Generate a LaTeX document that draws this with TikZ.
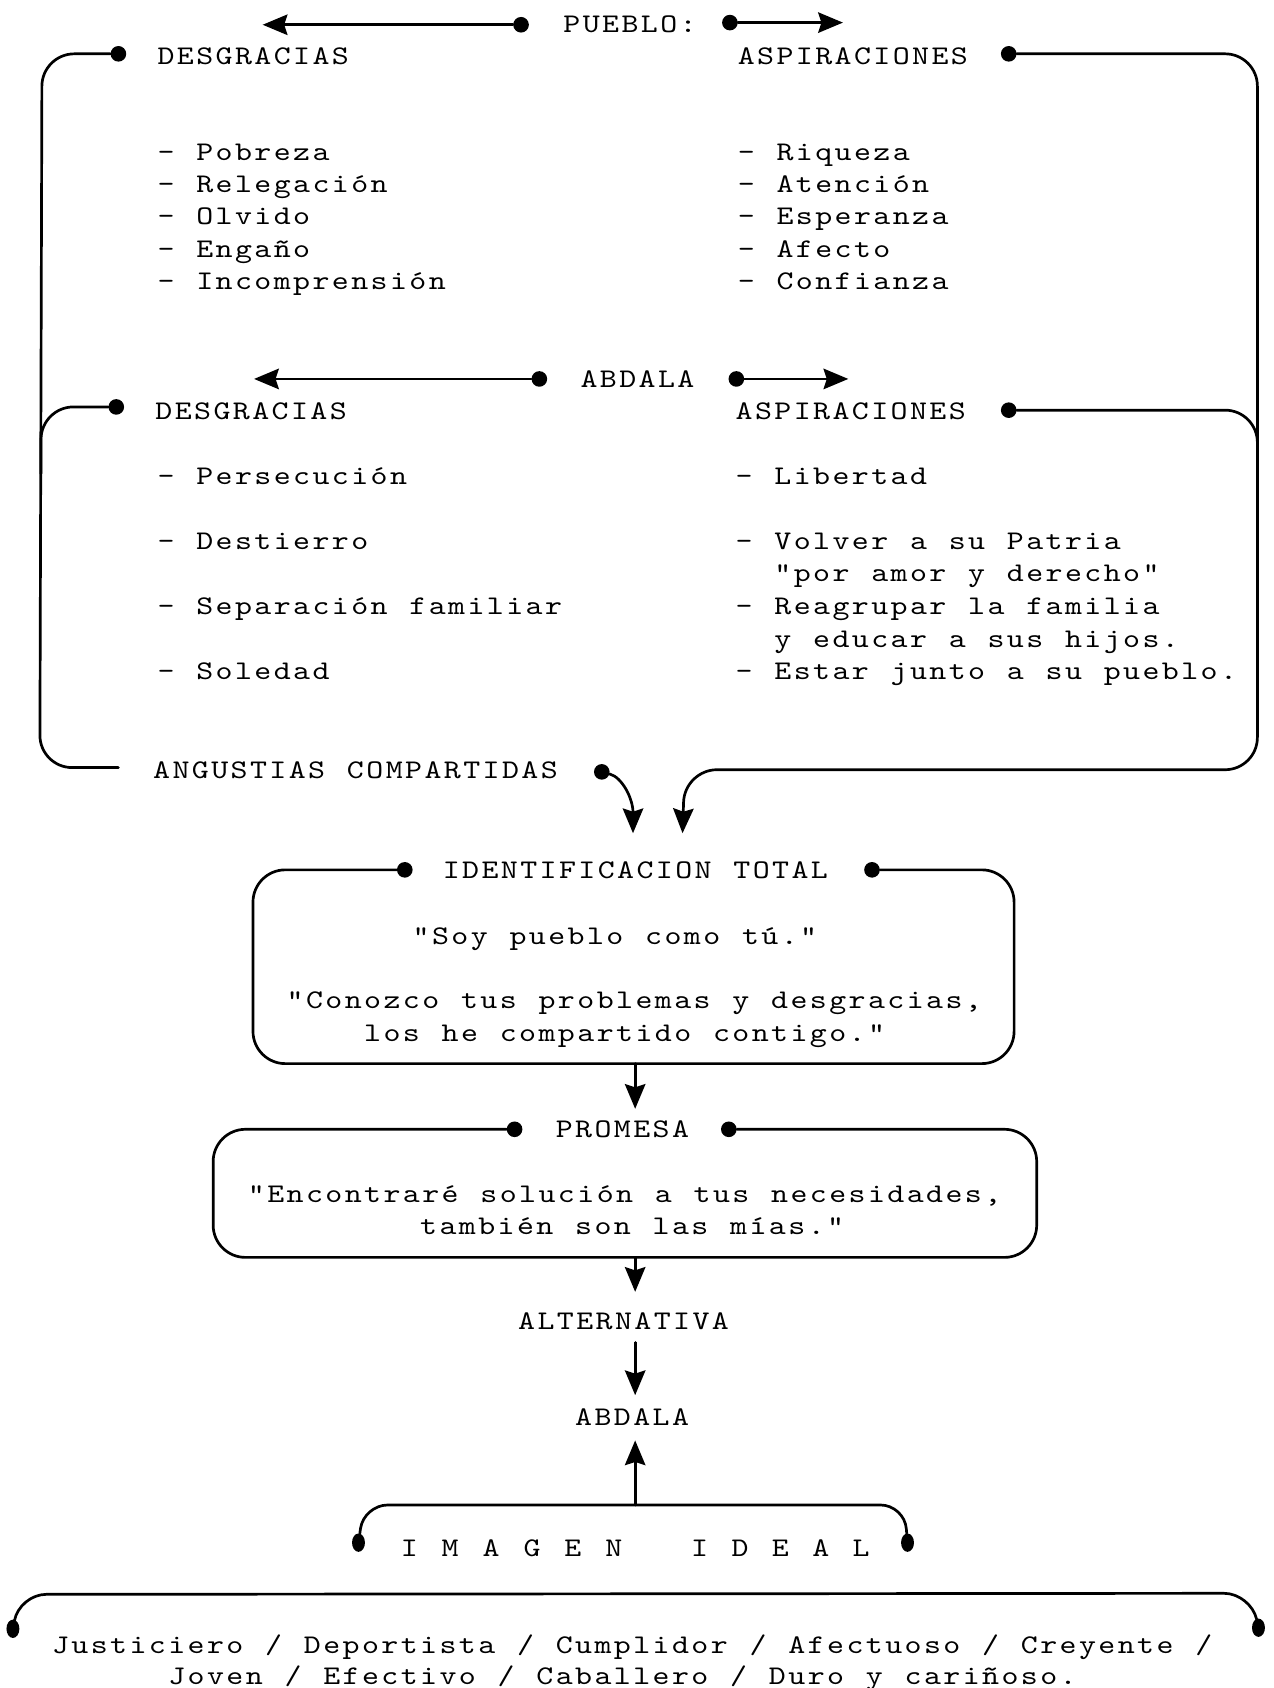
\documentclass[tikz,border=0pt]{standalone}
\usetikzlibrary{arrows.meta,shapes.geometric}
\ExplSyntaxOn
\NewDocumentCommand\tw{O{18pt}m}{\str_map_inline:nn{#2}{\makebox[#1][c]{##1}}}
\ExplSyntaxOff
\font\twf="[lmmono10-regular]:extend=1.2" at 25pt
\newcommand\twfont{\twf}
\begin{document}
\begin{tikzpicture}[x=1pt,y=-1pt,
  txt/.style={inner sep=0pt, anchor=base west, font=\twfont},
  dot/.style={circle, fill=black, inner sep=0pt, minimum size=14.5pt},
  dotv/.style={ellipse, fill=black, inner sep=0pt, minimum width=12pt, minimum height=17pt},
  ln/.style={line width=2.5pt, line cap=round, line join=round},
  arr/.style={ln, -{Stealth[length=23pt,width=19pt,inset=3pt]}},
  box/.style={ln, rounded corners=30pt}]
\fill[white] (0,0) rectangle (1183,1568);
\useasboundingbox (0,0) rectangle (1183,1568);

% ---------- PUEBLO ----------
\node[txt] (pueblo) at (522,30) {\tw{PUEBLO:}};
\node[dot] (dA) at (484,23) {};
\coordinate (tA) at (244,23);
\draw[arr] (dA) -- (tA);
\node[dot] (dB) at (678,21) {};
\coordinate (tB) at (783,21);
\draw[arr] (dB) -- (tB);

\node[txt] (desg1) at (145,60) {\tw{DESGRACIAS}};
\node[txt] (asp1) at (684,60) {\tw{ASPIRACIONES}};

\node[txt] (l1a) at (145,149) {\tw{- Pobreza}};
\node[txt] (l1b) at (145,179) {\tw{- Relegación}};
\node[txt] (l1c) at (145,209) {\tw{- Olvido}};
\node[txt] (l1d) at (145,239) {\tw{- Engaño}};
\node[txt] (l1e) at (145,269) {\tw{- Incomprensión}};

\node[txt] (r1a) at (684,149) {\tw{- Riqueza}};
\node[txt] (r1b) at (684,179) {\tw{- Atención}};
\node[txt] (r1c) at (684,209) {\tw{- Esperanza}};
\node[txt] (r1d) at (684,239) {\tw{- Afecto}};
\node[txt] (r1e) at (684,269) {\tw{- Confianza}};

% ---------- ABDALA ----------
\node[txt] (abd1) at (538,360) {\tw{ABDALA}};
\node[dot] (dF1) at (501,352) {};
\coordinate (tF1) at (236,352);
\draw[arr] (dF1) -- (tF1);
\node[dot] (dF2) at (684,352) {};
\coordinate (tF2) at (788,352);
\draw[arr] (dF2) -- (tF2);

\node[txt] (desg2) at (143,390) {\tw{DESGRACIAS}};
\node[txt] (asp2) at (682,390) {\tw{ASPIRACIONES}};

\node[txt] (l2a) at (145,450) {\tw{- Persecución}};
\node[txt] (l2b) at (145,510) {\tw{- Destierro}};
\node[txt] (l2c) at (145,571) {\tw{- Separación familiar}};
\node[txt] (l2d) at (145,631) {\tw{- Soledad}};

\node[txt] (r2a) at (682,450) {\tw{- Libertad}};
\node[txt] (r2b) at (682,510) {\tw{- Volver a su Patria}};
\node[txt] (r2c) at (718,540) {\tw{"por amor y derecho"}};
\node[txt] (r2d) at (682,571) {\tw{- Reagrupar la familia}};
\node[txt] (r2e) at (718,601) {\tw{y educar a sus hijos.}};
\node[txt] (r2f) at (682,631) {\tw{- Estar junto a su pueblo.}};

% ---------- brackets ----------
\node[dot] (dC1) at (110,50) {};
\coordinate (cCend) at (110,713);
\draw[box] (dC1) -- (39,50) -- (37,713) -- (cCend);
\node[dot] (dC2) at (108,378) {};
\coordinate (cC2) at (38,440);
\draw[box] (dC2) -- (38.2,378) -- (cC2);

\node[dot] (dD1) at (937,50) {};
\coordinate (tD) at (634,774);
\draw[arr, rounded corners=30pt] (dD1) -- (1168,50) -- (1168,715) -- (636,715) -- (tD);
\node[dot] (dD2) at (937,381) {};
\coordinate (cD2) at (1168,440);
\draw[box] (dD2) -- (1168,381) -- (cD2);

\node[txt] (ang) at (141,723) {\tw{ANGUSTIAS COMPARTIDAS}};
\node[dot] (dE) at (559,717) {};
\coordinate (tE) at (588,774);
\draw[arr] (dE) .. controls (578,722) and (588,742) .. (tE);

% ---------- IDENTIFICACION ----------
\node[txt] (ident) at (410,816) {\tw{IDENTIFICACION TOTAL}};
\node[dot] (dG1) at (376,808) {};
\node[dot] (dG2) at (810,808) {};
\draw[box] (dG1) -- (235,808) -- (235,988) -- (942,988) -- (942,808) -- (dG2);
\node[txt] (soy) at (382,877) {\tw{"Soy pueblo como tú."}};
\node[txt] (con1) at (265,937) {\tw{"Conozco tus problemas y desgracias,}};
\node[txt] (con2) at (337,967) {\tw{los he compartido contigo."}};
\coordinate (gbot) at (590,988);
\coordinate (gtip) at (590,1030);
\draw[arr] (gbot) -- (gtip);

% ---------- PROMESA ----------
\node[txt] (prom) at (515,1057) {\tw{PROMESA}};
\node[dot] (dH1) at (478,1049) {};
\node[dot] (dH2) at (677,1049) {};
\draw[box] (dH1) -- (198,1049) -- (198,1168) -- (963,1168) -- (963,1049) -- (dH2);
\node[txt] (enc1) at (229,1117) {\tw{"Encontraré solución a tus necesidades,}};
\node[txt] (enc2) at (389,1147) {\tw{también son las mías."}};
\coordinate (hbot) at (590,1168);
\coordinate (htip) at (590,1200);
\draw[arr] (hbot) -- (htip);

% ---------- ALTERNATIVA / ABDALA ----------
\node[txt] (alt) at (480,1235) {\tw{ALTERNATIVA}};
\node[txt] (abd2) at (533,1324) {\tw{ABDALA}};
\coordinate (altout) at (590,1247);
\coordinate (abdin) at (590,1296);
\draw[arr] (altout) -- (abdin);
\coordinate (jmid) at (590,1398);
\coordinate (abdup) at (590,1338);
\draw[arr] (jmid) -- (abdup);

% ---------- IMAGEN IDEAL ----------
\node[txt] (imag) at (361,1446) {\tw[38pt]{IMAGEN}};
\node[txt] (ideal) at (631,1446) {\tw[37.5pt]{IDEAL}};
\node[dotv] (dJ1) at (333,1433) {};
\node[dotv] (dJ2) at (843,1433) {};
\draw[ln, rounded corners=22pt] (dJ1) -- (338,1398) -- (840,1398) -- (dJ2);

\node[dotv] (dK1) at (12,1513) {};
\node[dotv] (dK2) at (1169,1512) {};
\draw[ln, rounded corners=25pt] (dK1) -- (18,1481) -- (1162,1480) -- (dK2);
\node[txt] (jus1) at (47,1536) {\tw{Justiciero / Deportista / Cumplidor / Afectuoso / Creyente /}};
\node[txt] (jus2) at (155,1565) {\tw{Joven / Efectivo / Caballero / Duro y cariñoso.}};
\end{tikzpicture}
\end{document}
